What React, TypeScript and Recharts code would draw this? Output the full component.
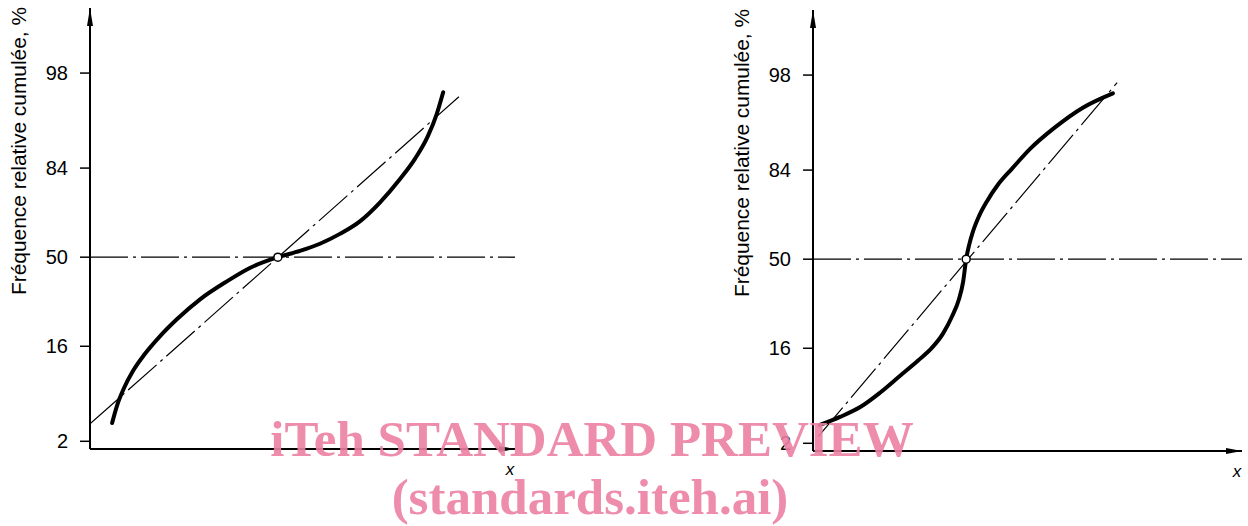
import { LineChart, Line, XAxis, YAxis, ReferenceLine, ReferenceDot } from "recharts"

// y is a probability scale: each cumulative % sits at its normal quantile (z)
const yTickLabels = ["2", "16", "50", "84", "98"]
const yTickZ = [-2.054, -0.994, 0, 0.994, 2.054]
const yDomain = [-2.14, 2.78]
const xDomain = [0, 100]

const yTitle = "Fréquence relative cumulée, %"
const xTitle = "x"

// left figure (curve flattens around the median)
const leftCurveX = [5.2, 6.4, 8.0, 10.1, 12.9, 16.5, 20.5, 25.9, 32.2, 37.6, 44.2, 49.4, 54.1, 58.8, 63.5, 68.2, 72.9, 76.5, 79.5, 81.6, 83.1]
const leftCurveZ = [-1.85, -1.65, -1.46, -1.27, -1.08, -0.88, -0.69, -0.47, -0.27, -0.12, 0, 0.07, 0.15, 0.26, 0.4, 0.61, 0.87, 1.1, 1.35, 1.6, 1.84]
const leftLineX = [0, 86.8]
const leftLineZ = [-1.86, 1.79]
const leftMedianX = 44.2

// right figure (curve steepens around the median)
const rightCurveX = [1.6, 6.3, 11.0, 15.6, 20.3, 24.5, 27.7, 30.3, 32.4, 34.0, 35.0, 35.7, 36.4, 37.3, 38.7, 40.6, 43.1, 46.4, 50.6, 56.4, 62.9, 69.9]
const rightCurveZ = [-1.85, -1.76, -1.65, -1.49, -1.3, -1.13, -0.99, -0.83, -0.64, -0.45, -0.25, 0, 0.16, 0.31, 0.48, 0.65, 0.83, 1.01, 1.23, 1.47, 1.69, 1.85]
const rightLineX = [1.2, 70.9]
const rightLineZ = [-1.98, 1.97]
const rightMedianX = 35.7

const watermarkTop = "iTeh STANDARD PREVIEW"
const watermarkBottom = "(standards.iteh.ai)"

const FONT = "'Liberation Sans', Arial, sans-serif"
const DASH = "38 5 3 5"

function toPoints(xs: number[], zs: number[]) {
  return xs.map((x, i) => ({ x, z: zs[i] }))
}

const ArrowUp = (props: any) => {
  const { cx, cy } = props
  return <path d={`M${cx},${cy} L${cx - 3},${cy + 18} L${cx + 3},${cy + 18} Z`} fill="#000" />
}

const ArrowRight = (props: any) => {
  const { cx, cy } = props
  return <path d={`M${cx},${cy} L${cx - 16},${cy - 3} L${cx - 16},${cy + 3} Z`} fill="#000" />
}

const XTitle = (props: any) => {
  const vb = props.viewBox
  return (
    <text x={vb.x + vb.width - 5} y={vb.y + 26} textAnchor="middle" fontFamily={FONT} fontStyle="italic" fontSize={17} fill="#000">
      {xTitle}
    </text>
  )
}

const YTitle = (props: any) => {
  const vb = props.viewBox
  const x = vb.x + 19
  const y = vb.y + 143
  return (
    <text
      x={x}
      y={y}
      transform={`rotate(-90 ${x} ${y})`}
      textAnchor="middle"
      dominantBaseline="central"
      fontFamily={FONT}
      fontSize={20}
      textLength={288}
      lengthAdjust="spacingAndGlyphs"
      fill="#000"
    >
      {yTitle}
    </text>
  )
}

type PanelProps = {
  curveX: number[]
  curveZ: number[]
  lineX: number[]
  lineZ: number[]
  medianX: number
  width: number
  marginRight: number
}

function Panel({ curveX, curveZ, lineX, lineZ, medianX, width, marginRight }: PanelProps) {
  return (
    <LineChart width={width} height={526} margin={{ top: 8, right: marginRight, bottom: 47, left: 0 }}>
      <XAxis
        type="number"
        dataKey="x"
        domain={xDomain}
        allowDataOverflow
        tick={false}
        tickLine={false}
        height={30}
        axisLine={{ stroke: "#000", strokeWidth: 2 }}
        label={<XTitle />}
      />
      <YAxis
        type="number"
        dataKey="z"
        domain={yDomain}
        allowDataOverflow
        ticks={yTickZ}
        tickFormatter={(v: number) => yTickLabels[yTickZ.indexOf(v)]}
        width={90}
        tickSize={10}
        tickMargin={12}
        tick={{ fill: "#000", fontSize: 20, fontFamily: FONT }}
        tickLine={{ stroke: "#000", strokeWidth: 1.5 }}
        axisLine={{ stroke: "#000", strokeWidth: 2 }}
        label={<YTitle />}
      />
      <ReferenceLine y={0} stroke="#000" strokeWidth={1.3} strokeDasharray={DASH} />
      <Line
        data={toPoints(lineX, lineZ)}
        dataKey="z"
        type="linear"
        stroke="#000"
        strokeWidth={1.2}
        strokeDasharray={DASH}
        dot={false}
        activeDot={false}
        isAnimationActive={false}
      />
      <Line
        data={toPoints(curveX, curveZ)}
        dataKey="z"
        type="monotone"
        stroke="#000"
        strokeWidth={4}
        strokeLinecap="round"
        dot={false}
        activeDot={false}
        isAnimationActive={false}
      />
      <ReferenceDot x={medianX} y={0} r={4} fill="#fff" stroke="#000" strokeWidth={1.5} ifOverflow="visible" />
      <ReferenceDot x={xDomain[0]} y={yDomain[1]} shape={<ArrowUp />} ifOverflow="visible" />
      <ReferenceDot x={xDomain[1]} y={yDomain[0]} shape={<ArrowRight />} ifOverflow="visible" />
    </LineChart>
  )
}

export default function App() {
  return (
    <div style={{ position: "absolute", left: 0, top: 0, width: 1248, height: 526, overflow: "hidden", background: "#fff" }}>
      <div style={{ position: "absolute", left: 0, top: 0 }}>
        <Panel curveX={leftCurveX} curveZ={leftCurveZ} lineX={leftLineX} lineZ={leftLineZ} medianX={leftMedianX} width={624} marginRight={109} />
      </div>
      <div style={{ position: "absolute", left: 723, top: 2 }}>
        <Panel curveX={rightCurveX} curveZ={rightCurveZ} lineX={rightLineX} lineZ={rightLineZ} medianX={rightMedianX} width={525} marginRight={6} />
      </div>
      {/* watermark on top of both figures */}
      <svg width={1248} height={526} style={{ position: "absolute", left: 0, top: 0, pointerEvents: "none" }}>
        <text x={592} y={456} textAnchor="middle" fontFamily="'Liberation Serif', 'Times New Roman', serif" fontWeight="bold" fontSize={51} fill="#ec7fa3" fillOpacity={0.9}>
          {watermarkTop}
        </text>
        <text x={590} y={514} textAnchor="middle" fontFamily="'Liberation Serif', 'Times New Roman', serif" fontWeight="bold" fontSize={51} fill="#ec7fa3" fillOpacity={0.9}>
          {watermarkBottom}
        </text>
      </svg>
    </div>
  )
}
